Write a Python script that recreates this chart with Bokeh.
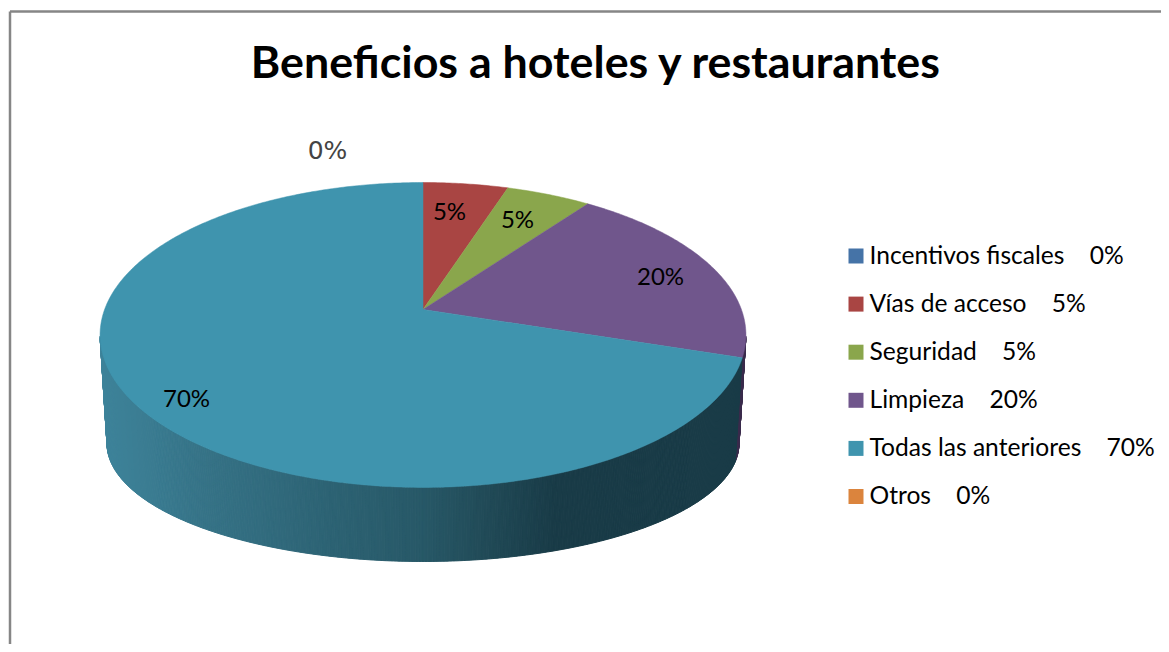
import numpy as np
from bokeh.plotting import figure
from bokeh.core.properties import value
from bokeh.embed import file_html
from bokeh.resources import INLINE
from bokeh.models import Range1d

title = "Beneficios a hoteles y restaurantes"
categories = ["Incentivos fiscales", "Vías de acceso", "Seguridad", "Limpieza", "Todas las anteriores", "Otros"]
percent = [0, 5, 5, 20, 70, 0]
colors = ["#4573a7", "#a94543", "#8aa64c", "#70568c", "#3f94ae", "#db843d"]

# layout (in picture pixels)
W, H = 1161, 644
AX, BY, K, APEX_X, APEX_Y = 318.4, 148.2, 0.167, 422.5, 309.0
TOPC = (422.5, 335.0, 323.0, 152.5)
BOTC = (422.5, 443.0, 316.0, 118.0)
label_x = [327, 449, 517, 660, 186]
label_y = [150, 209.5, 217.5, 274.5, 396.5]
label_idx = [0, 1, 2, 3, 4]
grad_x = [100, 200, 330, 420, 480, 556, 745]
grad_r = [0x3e, 0x37, 0x2d, 0x28, 0x22, 0x19, 0x19]
grad_g = [0x84, 0x74, 0x63, 0x59, 0x4c, 0x3b, 0x3b]
grad_b = [0x9b, 0x88, 0x74, 0x68, 0x59, 0x47, 0x47]
WALL_PURPLE = "#3a2b4c"


def project(theta):
    """Pie angle (clockwise from 12 o'clock) to the tilted disc."""
    u, v = np.sin(theta), np.cos(theta)
    d = 1 + K * v
    return APEX_X + AX * u / d, APEX_Y - BY * v / d


p = figure(width=W, height=H, x_range=Range1d(0, W), y_range=Range1d(H, 0),
           toolbar_location=None, output_backend="svg", min_border=0, outline_line_color=None)
p.axis.visible = False
p.grid.visible = False

# frame
p.line([9.5, 9.5], [H, 11], line_color="#868686", line_width=2.5)
p.line([9.5, W], [11, 11], line_color="#868686", line_width=2.5)

# side wall
th = np.radians(np.linspace(85, 300, 500))
tx, ty = project(th)
t = np.arctan2((ty - TOPC[1]) / TOPC[3], (tx - TOPC[0]) / TOPC[2])
keep = (t >= 0) & (t <= np.pi)
# cumulative boundary of the slices
edges = np.cumsum([0] + percent) / 100 * 2 * np.pi
th_ok = th[keep]; t_ok = t[keep]; tx_ok = tx[keep]; ty_ok = ty[keep]
bx = BOTC[0] + BOTC[2] * np.cos(t_ok)
by = BOTC[1] + BOTC[3] * np.sin(t_ok)
wx, wy, wc = [], [], []
for i in range(len(th_ok) - 1):
    xs = [tx_ok[i], tx_ok[i + 1], bx[i + 1], bx[i]]
    ys = [ty_ok[i], ty_ok[i + 1], by[i + 1], by[i]]
    mx = np.mean(xs)
    if th_ok[i] < edges[4]:
        c = WALL_PURPLE
    else:
        c = "#%02x%02x%02x" % (int(np.interp(mx, grad_x, grad_r)),
                               int(np.interp(mx, grad_x, grad_g)),
                               int(np.interp(mx, grad_x, grad_b)))
    wx.append(xs); wy.append(ys); wc.append(c)
p.patches(wx, wy, fill_color=wc, line_color=wc, line_width=1)

# top face
for i, pct in enumerate(percent):
    if pct == 0:
        continue
    a = np.linspace(edges[i], edges[i + 1], max(3, pct * 6))
    x, y = project(a)
    p.patch(np.r_[APEX_X, x], np.r_[APEX_Y, y], fill_color=colors[i], line_color=colors[i], line_width=0.5)

# data labels
p.text([label_x[0]], [label_y[0]], text=[f"{percent[label_idx[0]]}%"], text_font=value("DejaVu Sans"),
       text_font_size="25px", text_color="#444444", text_align="center", text_baseline="middle")
p.text(label_x[1:], label_y[1:], text=[f"{percent[i]}%" for i in label_idx[1:]], text_font=value("Lato"),
       text_font_size="24px", text_color="#000000", text_align="center", text_baseline="middle")

# title
p.text([596], [60], text=[title], text_font=value("Lato"), text_font_style="bold",
       text_font_size="44.8px", text_color="#000000", text_align="center", text_baseline="middle")

# legend
ly = [255.5 + 48.1 * i for i in range(len(categories))]
p.rect([855.5] * len(categories), ly, width=15, height=15, fill_color=colors, line_color=None)
p.text([869] * len(categories), [y - 2 for y in ly],
       text=[f"{c}\u00a0\u00a0\u00a0\u00a0{v}%" for c, v in zip(categories, percent)],
       text_font=value("Lato"), text_font_size="24.6px", text_color="#000000",
       text_align="left", text_baseline="middle")

open("out.html", "w").write(file_html(p, INLINE))
